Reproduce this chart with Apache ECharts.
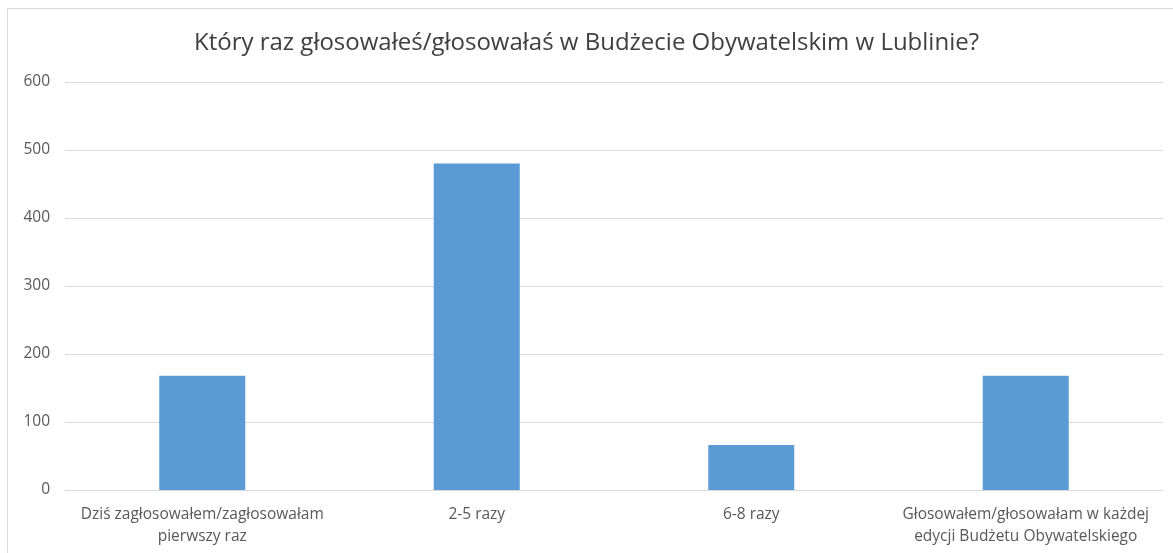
<!DOCTYPE html>
<html><head><meta charset="utf-8">
<script src="https://cdn.jsdelivr.net/npm/echarts@6/dist/echarts.min.js"></script>
<style>
html,body{margin:0;padding:0;background:#fff;}
#frame{position:absolute;left:7px;top:8px;width:1180px;height:560px;border:1px solid #d9d9d9;box-sizing:border-box;}
#c{position:absolute;left:0;top:0;width:1173px;height:553px;}
</style></head>
<body>
<div id="frame"></div>
<div id="c"></div>
<script>
const titleText = 'Który raz głosowałeś/głosowałaś w Budżecie Obywatelskim w Lublinie?';
const categories = ['Dziś zagłosowałem/zagłosowałam\npierwszy raz', '2-5 razy', '6-8 razy', 'Głosowałem/głosowałam w każdej\nedycji Budżetu Obywatelskiego'];
const values = [168, 480, 66, 168];
const yMin = 0, yMax = 600, yStep = 100;

const font = '"Open Sans", sans-serif';
const chart = echarts.init(document.getElementById('c'));
chart.setOption({
  animation: false,
  backgroundColor: 'transparent',
  title: {
    text: titleText, left: 'center', top: 26,
    textStyle: { fontFamily: font, fontSize: 24, fontWeight: 'normal', color: '#404040' }
  },
  grid: { left: 65, right: 10, top: 82, bottom: 63 },
  xAxis: {
    type: 'category', data: categories,
    axisLine: { lineStyle: { color: '#d9d9d9', width: 1 } },
    axisTick: { show: false },
    axisLabel: { interval: 0, margin: 14, lineHeight: 22, fontFamily: font, fontSize: 15.5, color: '#595959' }
  },
  yAxis: {
    type: 'value', min: yMin, max: yMax, interval: yStep,
    axisLine: { show: false }, axisTick: { show: false },
    axisLabel: { margin: 15, fontFamily: font, fontSize: 15.5, color: '#595959' },
    splitLine: { lineStyle: { color: '#d9d9d9', width: 1 } }
  },
  series: [{
    type: 'bar', data: values, barWidth: 86,
    itemStyle: { color: '#5b9bd5' }
  }]
});
</script>
</body></html>
